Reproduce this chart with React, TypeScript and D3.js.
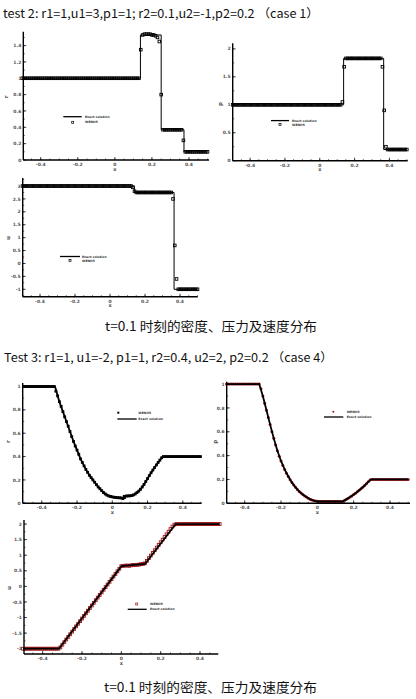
import React from 'react';
import * as d3 from 'd3';

// ---------- shared axis data ----------
const X_TICKS = [-0.4, -0.2, 0, 0.2, 0.4];
const X_TICK_LABELS = ['-0.4', '-0.2', '0', '0.2', '0.4'];
const GRID_START = -0.5;
const GRID_STEP = 0.01;

const LEGEND_EXACT = 'Exact solution';
const LEGEND_WENO = 'WENO5';

// ---------- test 2 (case 1) ----------
const T2_RHO_TICKS = [0, 0.2, 0.4, 0.6, 0.8, 1, 1.2, 1.4];
const T2_P_TICKS = [0, 0.5, 1, 1.5, 2];
const T2_U_TICKS = [-1, -0.5, 0, 0.5, 1, 1.5, 2, 2.5, 3];

const T2_RHO_EXACT: [number, number][] = [[-0.5, 1], [0.138, 1], [0.138, 1.53], [0.25, 1.53], [0.25, 0.37], [0.373, 0.37], [0.373, 0.1], [0.5, 0.1]];
const T2_P_EXACT: [number, number][] = [[-0.5, 1], [0.137, 1], [0.137, 1.83], [0.367, 1.83], [0.367, 0.2], [0.5, 0.2]];
const T2_U_EXACT: [number, number][] = [[-0.5, 3], [0.139, 3], [0.139, 2.75], [0.366, 2.75], [0.366, -1], [0.5, -1]];

const T2_RHO_WENO = [
  1, 1, 1, 1, 1, 1, 1, 1, 1, 1,
  1, 1, 1, 1, 1, 1, 1, 1, 1, 1,
  1, 1, 1, 1, 1, 1, 1, 1, 1, 1,
  1, 1, 1, 1, 1, 1, 1, 1, 1, 1,
  1, 1, 1, 1, 1, 1, 1, 1, 1, 1,
  1, 1, 1, 1, 1, 1, 1, 1, 1, 1,
  1, 1, 1, 1, 1.35, 1.53, 1.54, 1.54, 1.54, 1.54,
  1.53, 1.53, 1.52, 1.5, 1.45, 0.8, 0.37, 0.37, 0.37, 0.37,
  0.37, 0.37, 0.37, 0.37, 0.37, 0.37, 0.37, 0.24, 0.1, 0.1,
  0.1, 0.1, 0.1, 0.1, 0.1, 0.1, 0.1, 0.1, 0.1, 0.1,
  0.1,
];
const T2_P_WENO = [
  1, 1, 1, 1, 1, 1, 1, 1, 1, 1,
  1, 1, 1, 1, 1, 1, 1, 1, 1, 1,
  1, 1, 1, 1, 1, 1, 1, 1, 1, 1,
  1, 1, 1, 1, 1, 1, 1, 1, 1, 1,
  1, 1, 1, 1, 1, 1, 1, 1, 1, 1,
  1, 1, 1, 1, 1, 1, 1, 1, 1, 1,
  1, 1, 1, 1.05, 1.68, 1.83, 1.83, 1.83, 1.83, 1.83,
  1.83, 1.83, 1.83, 1.83, 1.83, 1.83, 1.83, 1.83, 1.83, 1.83,
  1.83, 1.83, 1.83, 1.83, 1.83, 1.83, 1.68, 0.9, 0.25, 0.2,
  0.2, 0.2, 0.2, 0.2, 0.2, 0.2, 0.2, 0.2, 0.2, 0.2,
  0.2,
];
const T2_U_WENO = [
  3, 3, 3, 3, 3, 3, 3, 3, 3, 3,
  3, 3, 3, 3, 3, 3, 3, 3, 3, 3,
  3, 3, 3, 3, 3, 3, 3, 3, 3, 3,
  3, 3, 3, 3, 3, 3, 3, 3, 3, 3,
  3, 3, 3, 3, 3, 3, 3, 3, 3, 3,
  3, 3, 3, 3, 3, 3, 3, 3, 3, 3,
  3, 3, 3, 2.95, 2.8, 2.75, 2.75, 2.75, 2.75, 2.75,
  2.75, 2.75, 2.75, 2.75, 2.75, 2.75, 2.75, 2.75, 2.75, 2.75,
  2.75, 2.75, 2.75, 2.75, 2.75, 2.75, 2.5, 0.7, -0.6, -1,
  -1, -1, -1, -1, -1, -1, -1, -1, -1, -1,
  -1,
];

// ---------- test 3 (case 4) ----------
const T3_RHO_TICKS = [0, 0.2, 0.4, 0.6, 0.8, 1];
const T3_P_TICKS = [0, 0.2, 0.4, 0.6, 0.8, 1];
const T3_U_TICKS = [-2, -1.5, -1, -0.5, 0, 0.5, 1, 1.5, 2];

const T3_RHO_EXACT: [number, number][] = [
  [-0.5, 1], [-0.325, 1], [-0.3, 0.87], [-0.28, 0.785], [-0.26, 0.7], [-0.24, 0.615], [-0.22, 0.53],
  [-0.2, 0.455], [-0.18, 0.38], [-0.16, 0.32], [-0.14, 0.265], [-0.12, 0.22], [-0.1, 0.18], [-0.08, 0.14],
  [-0.06, 0.108], [-0.04, 0.08], [-0.02, 0.063], [0, 0.055], [0.005, 0.05], [0.065, 0.047], [0.065, 0.063],
  [0.12, 0.068], [0.14, 0.092], [0.16, 0.12], [0.18, 0.162], [0.2, 0.212], [0.22, 0.262], [0.24, 0.307],
  [0.26, 0.35], [0.285, 0.4], [0.5, 0.4],
];
const T3_P_EXACT: [number, number][] = [
  [-0.5, 1], [-0.32, 1], [-0.3, 0.9], [-0.28, 0.78], [-0.26, 0.66], [-0.24, 0.545], [-0.22, 0.44],
  [-0.2, 0.355], [-0.18, 0.284], [-0.16, 0.225], [-0.14, 0.174], [-0.12, 0.134], [-0.1, 0.1], [-0.08, 0.073],
  [-0.06, 0.052], [-0.04, 0.035], [-0.02, 0.023], [0, 0.017], [0.005, 0.016], [0.14, 0.016], [0.16, 0.033],
  [0.18, 0.052], [0.2, 0.073], [0.22, 0.097], [0.24, 0.122], [0.26, 0.149], [0.28, 0.18], [0.295, 0.2], [0.5, 0.2],
];
const T3_U_EXACT: [number, number][] = [[-0.5, -2], [-0.317, -2], [0, 0.65], [0.12, 0.72], [0.276, 2], [0.5, 2]];

const T3_RHO_WENO = [
  1, 1, 1, 1, 1, 1, 1, 1, 1, 1,
  1, 1, 1, 1, 1, 1, 1, 1, 0.96, 0.92,
  0.87, 0.83, 0.785, 0.74, 0.7, 0.66, 0.615, 0.571, 0.53, 0.49,
  0.455, 0.42, 0.38, 0.35, 0.32, 0.29, 0.265, 0.24, 0.22, 0.2,
  0.18, 0.16, 0.14, 0.125, 0.108, 0.092, 0.08, 0.07, 0.063, 0.058,
  0.055, 0.052, 0.05, 0.048, 0.047, 0.046, 0.04, 0.05, 0.062, 0.063,
  0.064, 0.066, 0.072, 0.08, 0.092, 0.104, 0.12, 0.14, 0.162, 0.187,
  0.212, 0.237, 0.262, 0.285, 0.307, 0.328, 0.35, 0.37, 0.39, 0.4,
  0.4, 0.4, 0.4, 0.4, 0.4, 0.4, 0.4, 0.4, 0.4, 0.4,
  0.4, 0.4, 0.4, 0.4, 0.4, 0.4, 0.4, 0.4, 0.4, 0.4,
  0.4,
];
const T3_P_WENO = [
  1, 1, 1, 1, 1, 1, 1, 1, 1, 1,
  1, 1, 1, 1, 1, 1, 1, 1, 1, 0.96,
  0.9, 0.84, 0.78, 0.72, 0.66, 0.6, 0.545, 0.49, 0.44, 0.395,
  0.355, 0.318, 0.284, 0.253, 0.225, 0.198, 0.174, 0.153, 0.134, 0.116,
  0.1, 0.086, 0.073, 0.062, 0.052, 0.043, 0.035, 0.028, 0.023, 0.019,
  0.017, 0.016, 0.016, 0.016, 0.016, 0.016, 0.016, 0.016, 0.016, 0.016,
  0.016, 0.016, 0.016, 0.016, 0.016, 0.025, 0.033, 0.042, 0.052, 0.062,
  0.073, 0.085, 0.097, 0.11, 0.122, 0.135, 0.149, 0.164, 0.18, 0.195,
  0.2, 0.2, 0.2, 0.2, 0.2, 0.2, 0.2, 0.2, 0.2, 0.2,
  0.2, 0.2, 0.2, 0.2, 0.2, 0.2, 0.2, 0.2, 0.2, 0.2,
  0.2,
];
const T3_U_WENO = [
  -2, -2, -2, -2, -2, -2, -2, -2, -2, -2,
  -2, -2, -2, -2, -2, -2, -2, -2, -2, -1.957,
  -1.873, -1.789, -1.705, -1.621, -1.537, -1.453, -1.368, -1.284, -1.2, -1.116,
  -1.032, -0.948, -0.864, -0.78, -0.696, -0.612, -0.527, -0.443, -0.359, -0.275,
  -0.191, -0.107, -0.023, 0.061, 0.145, 0.23, 0.314, 0.398, 0.482, 0.566,
  0.65, 0.66, 0.665, 0.67, 0.66, 0.675, 0.69, 0.685, 0.69, 0.7,
  0.71, 0.72, 0.74, 0.82, 0.905, 0.99, 1.075, 1.16, 1.245, 1.33,
  1.415, 1.5, 1.585, 1.67, 1.755, 1.84, 1.92, 1.98, 2, 2,
  2, 2, 2, 2, 2, 2, 2, 2, 2, 2,
  2, 2, 2, 2, 2, 2, 2, 2, 2, 2,
  2,
];

const TITLE_2 = 'test 2: r1=1,u1=3,p1=1; r2=0.1,u2=-1,p2=0.2 （case 1）';
const TITLE_3 = 'Test 3: r1=1, u1=-2, p1=1, r2=0.4, u2=2, p2=0.2 （case 4）';
const CAPTION = 't=0.1 时刻的密度、压力及速度分布';

const RED = '#a3161a';

type MarkerKind = 'openSquare' | 'filledSquare' | 'filledCircle';

interface PlotCfg {
  left: number; right: number; top: number; bottom: number;
  xDomain: [number, number]; yDomain: [number, number];
  yTicks: number[]; yMinorStep: number; yLabel: string; yLabelPos: [number, number];
  exact: [number, number][]; weno: number[];
  marker: MarkerKind; markerColor: string; markerSize: number; lineOnTop: boolean;
  legend: { lineY: number; markerY: number; lineX0: number; lineX1: number; textX: number; markerX: number };
}

const fmt = (v: number) => String(v);

function Marker({ kind, cx, cy, color, s, sw = 0.9 }: { kind: MarkerKind; cx: number; cy: number; color: string; s: number; sw?: number }) {
  if (kind === 'filledCircle') return <circle cx={cx} cy={cy} r={s / 2} fill={color} />;
  if (kind === 'filledSquare') return <rect x={cx - s / 2} y={cy - s / 2} width={s} height={s} fill={color} />;
  return <rect x={cx - s / 2} y={cy - s / 2} width={s} height={s} fill="none" stroke={color} strokeWidth={sw} />;
}

function Plot({ cfg }: { cfg: PlotCfg }) {
  const x = d3.scaleLinear().domain(cfg.xDomain).range([cfg.left, cfg.right]);
  const y = d3.scaleLinear().domain(cfg.yDomain).range([cfg.bottom, cfg.top]);
  const line = d3.line<[number, number]>().x(d => x(d[0])).y(d => y(d[1]));
  const pts = cfg.weno.map((v, i) => [GRID_START + i * GRID_STEP, v] as [number, number]);
  const xMinor = d3.range(-0.5, 0.5001, 0.05).filter(v => v >= cfg.xDomain[0] && v <= cfg.xDomain[1]);
  const yMinor = d3.range(Math.ceil(cfg.yDomain[0] / cfg.yMinorStep) * cfg.yMinorStep, cfg.yDomain[1] + 1e-9, cfg.yMinorStep);
  const tickFont = { fontFamily: 'DejaVu Sans', fontSize: 4.5, fontWeight: 700, fill: '#555' } as const;
  const lg = cfg.legend;
  const lineEl = <path d={line(cfg.exact) || ''} fill="none" stroke="#000" strokeWidth={cfg.lineOnTop ? 1.8 : 1} />;
  const markersEl = (
    <g>
      {pts.map((p, i) => (
        <Marker key={i} kind={cfg.marker} cx={x(p[0])} cy={y(p[1])} color={cfg.markerColor} s={cfg.markerSize} />
      ))}
    </g>
  );
  return (
    <g>
      {cfg.lineOnTop ? markersEl : lineEl}
      {cfg.lineOnTop ? lineEl : markersEl}
      {/* axes */}
      <line x1={cfg.left} x2={cfg.left} y1={cfg.bottom} y2={cfg.top} stroke="#000" strokeWidth={1.4} />
      <line x1={cfg.left} x2={cfg.right} y1={cfg.bottom} y2={cfg.bottom} stroke="#000" strokeWidth={1.4} />
      {xMinor.map((v, i) => (
        <line key={'xm' + i} x1={x(v)} x2={x(v)} y1={cfg.bottom} y2={cfg.bottom - 1.5} stroke="#000" strokeWidth={0.6} />
      ))}
      {X_TICKS.map((v, i) => (
        <g key={'xt' + i}>
          <line x1={x(v)} x2={x(v)} y1={cfg.bottom} y2={cfg.bottom - 3} stroke="#000" strokeWidth={0.7} />
          <text x={x(v)} y={cfg.bottom + 6} textAnchor="middle" {...tickFont}>{X_TICK_LABELS[i]}</text>
        </g>
      ))}
      {yMinor.map((v, i) => (
        <line key={'ym' + i} x1={cfg.left} x2={cfg.left + 1.5} y1={y(v)} y2={y(v)} stroke="#000" strokeWidth={0.6} />
      ))}
      {cfg.yTicks.map((v, i) => (
        <g key={'yt' + i}>
          <line x1={cfg.left} x2={cfg.left + 3} y1={y(v)} y2={y(v)} stroke="#000" strokeWidth={0.7} />
          <text x={cfg.left - 2} y={y(v) + 1.6} textAnchor="end" {...tickFont}>{fmt(v)}</text>
        </g>
      ))}
      <text x={x(0)} y={cfg.bottom + 10.5} textAnchor="middle" {...tickFont} fontSize={5}>x</text>
      <text x={cfg.yLabelPos[0]} y={cfg.yLabelPos[1]} textAnchor="middle" {...tickFont} fontSize={5.5}
        transform={`rotate(-90 ${cfg.yLabelPos[0]} ${cfg.yLabelPos[1]})`}>{cfg.yLabel}</text>
      {/* legend */}
      <line x1={lg.lineX0} x2={lg.lineX1} y1={lg.lineY} y2={lg.lineY} stroke="#000" strokeWidth={1.3} />
      <Marker kind={cfg.marker} cx={lg.markerX} cy={lg.markerY} color={cfg.markerColor} s={2} sw={0.7} />
      <text x={lg.textX} y={lg.lineY + 1.1} {...tickFont} fontSize={3.1} fill="#333">{LEGEND_EXACT}</text>
      <text x={lg.textX} y={lg.markerY + 1.1} {...tickFont} fontSize={3.1} fill="#333">{LEGEND_WENO}</text>
    </g>
  );
}

const PLOTS: PlotCfg[] = [
  {
    left: 23.3, right: 209, top: 31.7, bottom: 160, xDomain: [-0.494, 0.508], yDomain: [0, 1.57],
    yTicks: T2_RHO_TICKS, yMinorStep: 0.1, yLabel: 'r', yLabelPos: [8, 97],
    exact: T2_RHO_EXACT, weno: T2_RHO_WENO, marker: 'openSquare', markerColor: '#000', markerSize: 2.6, lineOnTop: false,
    legend: { lineY: 116.7, markerY: 122.3, lineX0: 63.3, lineX1: 81.7, textX: 85, markerX: 72.7 },
  },
  {
    left: 232.7, right: 407.7, top: 43.3, bottom: 160.7, xDomain: [-0.5, 0.505], yDomain: [0, 2.1],
    yTicks: T2_P_TICKS, yMinorStep: 0.25, yLabel: 'p', yLabelPos: [222, 104],
    exact: T2_P_EXACT, weno: T2_P_WENO, marker: 'openSquare', markerColor: '#000', markerSize: 2.6, lineOnTop: false,
    legend: { lineY: 120.6, markerY: 124.6, lineX0: 271, lineX1: 289, textX: 292, markerX: 280 },
  },
  {
    left: 22.7, right: 197.7, top: 178, bottom: 296.7, xDomain: [-0.499, 0.501], yDomain: [-1.287, 3.31],
    yTicks: T2_U_TICKS, yMinorStep: 0.25, yLabel: 'u', yLabelPos: [10, 238],
    exact: T2_U_EXACT, weno: T2_U_WENO, marker: 'openSquare', markerColor: '#000', markerSize: 2.6, lineOnTop: false,
    legend: { lineY: 256.5, markerY: 260.5, lineX0: 60, lineX1: 80, textX: 82, markerX: 70 },
  },
  {
    left: 22.7, right: 201.7, top: 383, bottom: 503.3, xDomain: [-0.508, 0.507], yDomain: [0, 1.03],
    yTicks: T3_RHO_TICKS, yMinorStep: 0.1, yLabel: 'r', yLabelPos: [10, 441.7],
    exact: T3_RHO_EXACT, weno: T3_RHO_WENO, marker: 'filledSquare', markerColor: '#000', markerSize: 2.8, lineOnTop: true,
    legend: { lineY: 419, markerY: 412.7, lineX0: 117.3, lineX1: 136.7, textX: 138.3, markerX: 118.3 },
  },
  {
    left: 226.7, right: 410, top: 381.7, bottom: 503.3, xDomain: [-0.499, 0.51], yDomain: [0, 1.02],
    yTicks: T3_P_TICKS, yMinorStep: 0.1, yLabel: 'p', yLabelPos: [217.3, 441.7],
    exact: T3_P_EXACT, weno: T3_P_WENO, marker: 'filledCircle', markerColor: RED, markerSize: 3, lineOnTop: true,
    legend: { lineY: 417, markerY: 411.7, lineX0: 324, lineX1: 343.3, textX: 346.7, markerX: 333.3 },
  },
  {
    left: 24, right: 218.3, top: 520, bottom: 654, xDomain: [-0.495, 0.493], yDomain: [-2.17, 2.13],
    yTicks: T3_U_TICKS, yMinorStep: 0.25, yLabel: 'u', yLabelPos: [11, 588],
    exact: T3_U_EXACT, weno: T3_U_WENO, marker: 'openSquare', markerColor: RED, markerSize: 2.8, lineOnTop: true,
    legend: { lineY: 609.3, markerY: 604, lineX0: 127.7, lineX1: 146.7, textX: 150, markerX: 136.7 },
  },
];

export default function App() {
  const titleFont = { fontFamily: '"Noto Sans CJK SC", "Noto Sans", sans-serif', fill: '#111' } as const;
  return (
    <svg width={416} height={699} viewBox="0 0 416 699"
      style={{ position: 'absolute', left: 0, top: 0, background: '#fff' }}>
      <rect x={0} y={0} width={416} height={699} fill="#fff" />
      <text x={3} y={18} fontSize={12} textLength={316} lengthAdjust="spacingAndGlyphs" {...titleFont}>{TITLE_2}</text>
      <text x={4} y={362} fontSize={12} textLength={329} lengthAdjust="spacingAndGlyphs" {...titleFont}>{TITLE_3}</text>
      <text x={105} y={331} fontSize={13} textLength={212} lengthAdjust="spacingAndGlyphs" {...titleFont}>{CAPTION}</text>
      <text x={104} y={692} fontSize={13} textLength={213} lengthAdjust="spacingAndGlyphs" {...titleFont}>{CAPTION}</text>
      {PLOTS.map((p, i) => <Plot key={i} cfg={p} />)}
    </svg>
  );
}
